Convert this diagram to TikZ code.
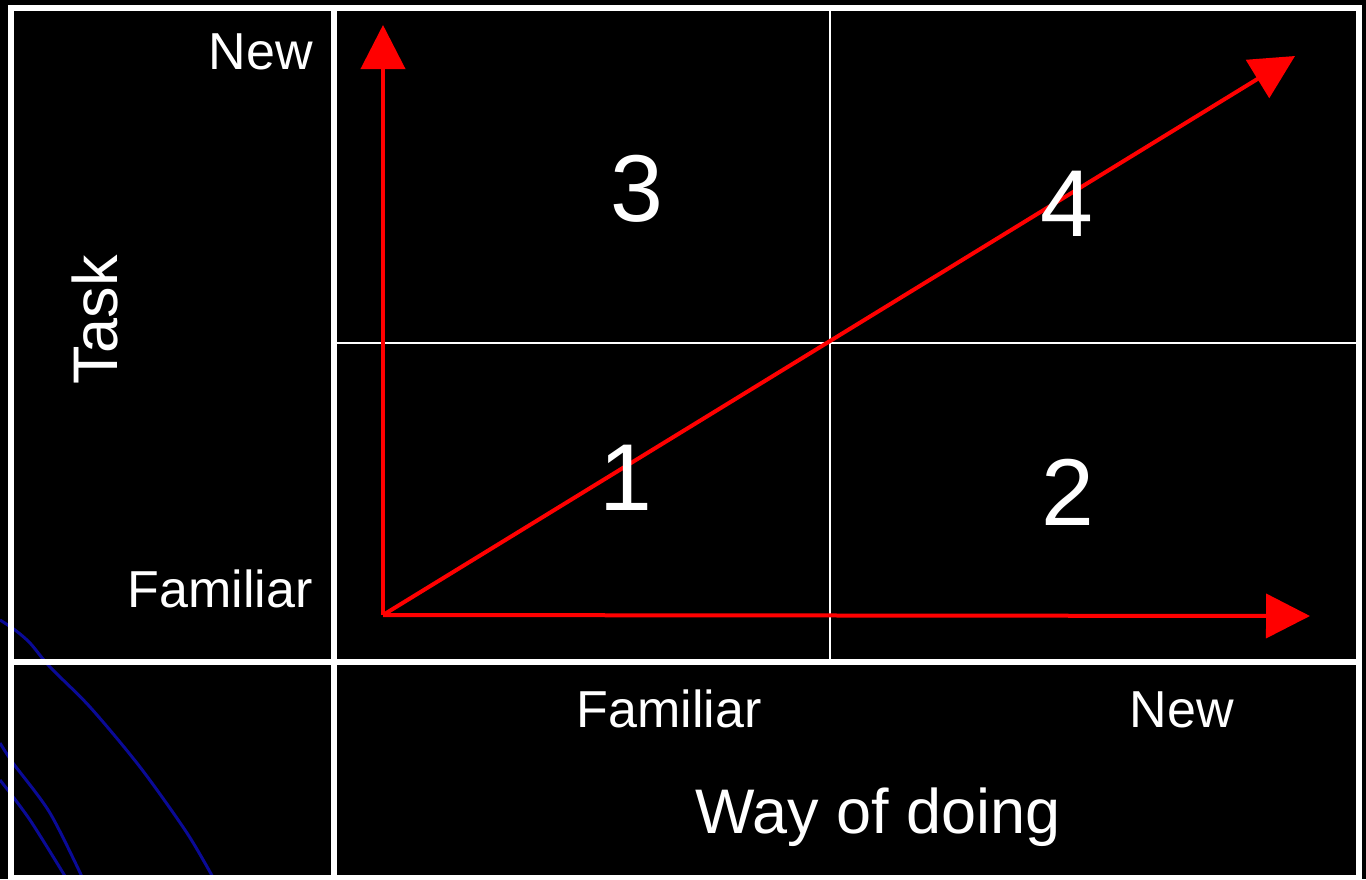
\documentclass[tikz,border=0pt]{standalone}
\usepackage{fontspec}
\setmainfont{Liberation Sans}
\usetikzlibrary{arrows.meta}
\definecolor{redarr}{RGB}{255,0,0}
\definecolor{bluec}{RGB}{10,10,150}
\tikzset{
  frame/.style={draw=white, line width=6pt},
  thinline/.style={draw=white, line width=1.5pt},
  redarrow/.style={draw=redarr, line width=4pt, -{Triangle[length=44pt,width=44pt]}},
  bluecurve/.style={draw=bluec, line width=3pt},
  lab/.style={text=white, inner sep=0pt, font=\fontsize{52}{60}\selectfont},
  biglab/.style={text=white, inner sep=0pt, font=\fontsize{63}{72}\selectfont},
  numlab/.style={text=white, inner sep=0pt, font=\fontsize{95}{110}\selectfont}
}
\begin{document}
\begin{tikzpicture}[x=1pt,y=-1pt]
\useasboundingbox (0,0) rectangle (1366,879);
\fill[black] (0,0) rectangle (1366,879);
% blue curves
\draw[bluecurve] plot[smooth] coordinates {(0,620) (15,630) (30,643) (50,667) (90,707) (140,767) (187,833) (215,881)};
\draw[bluecurve] plot[smooth] coordinates {(0,743) (13,763) (50,813) (84,881)};
\draw[bluecurve] plot[smooth] coordinates {(0,780) (30,820) (68,881)};
% frame
\draw[frame] (11,8) rectangle (1359,878);
\draw[frame] (334,8) -- (334,878);
\draw[frame] (11,662) -- (1359,662);
\draw[thinline] (830,8) -- (830,662);
\draw[thinline] (334,343) -- (1359,343);
% arrows
\coordinate (O) at (383,615);
\coordinate (Top) at (383,25);
\coordinate (Right) at (1310,616);
\coordinate (Diag) at (1295,56);
\draw[redarrow] (O) -- (Top);
\draw[redarrow] (O) -- (Right);
\draw[redarrow] (O) -- (Diag);
% labels
\node[lab, anchor=base east] (tnew) at (313,69) {New};
\node[lab, anchor=base east] (tfam) at (313,607) {Familiar};
\node[biglab, rotate=90, anchor=center] (task) at (95,320) {Task};
\node[lab, anchor=base] (wfam) at (669,727) {Familiar};
\node[lab, anchor=base] (wnew) at (1182,727) {New};
\node[biglab, anchor=base] (way) at (878,833) {Way of doing};
\node[numlab] (n3) at (637,189) {3};
\node[numlab] (n4) at (1067,204) {4};
\node[numlab] (n1) at (626,478) {1};
\node[numlab] (n2) at (1068,492) {2};
\end{tikzpicture}
\end{document}
